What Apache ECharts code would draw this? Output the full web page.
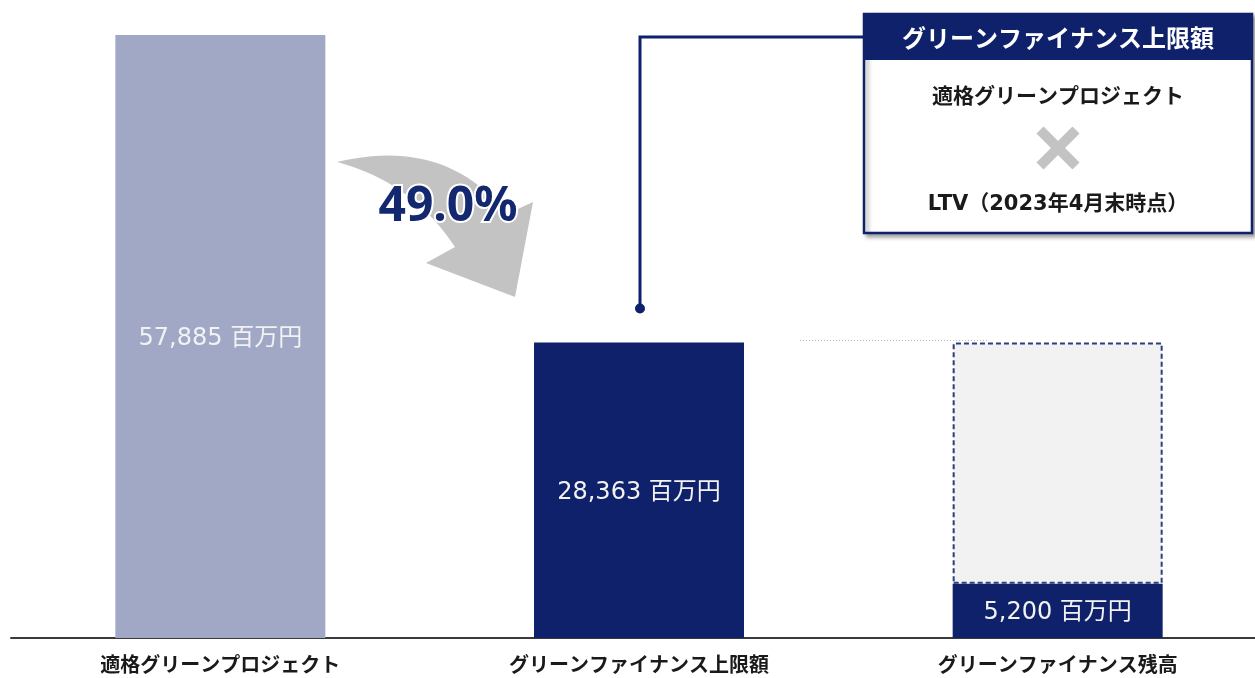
<!DOCTYPE html>
<html>
<head>
<meta charset="utf-8">
<script src="https://cdn.jsdelivr.net/npm/echarts@6/dist/echarts.min.js"></script>
<style>
html,body{margin:0;padding:0;background:#fff;}
#chart{width:1255px;height:678px;}
</style>
</head>
<body>
<div id="chart"></div>
<script>
// ---- data ----
const categories = ['適格グリーンプロジェクト', 'グリーンファイナンス上限額', 'グリーンファイナンス残高'];
const amounts = [57885, 28363, 5200];          // 百万円
const headroom = [null, null, 23163];          // 上限額までの残り枠 (28,363 - 5,200)
const ratioText = '49.0%';
const unit = '百万円';
const boxTitle = 'グリーンファイナンス上限額';
const boxLine1 = '適格グリーンプロジェクト';
const boxLine2 = 'LTV（2023年4月末時点）';

const NAVY = '#0f216a';
const LILAC = '#a1a8c6';
const cjk = "'Noto Sans CJK JP', 'Noto Sans', sans-serif";
const latin = "'DejaVu Sans', 'Noto Sans CJK JP', sans-serif";

const chart = echarts.init(document.getElementById('chart'));

const option = {
  animation: false,
  backgroundColor: '#ffffff',
  grid: { left: 11, width: 1256, top: 35, bottom: 40, outerBoundsMode: 'none', containLabel: false },
  xAxis: {
    type: 'category',
    data: categories,
    axisLine: { show: true, lineStyle: { color: '#3a3a3a', width: 2 } },
    axisTick: { show: false },
    axisLabel: {
      color: '#1a1a1a', fontSize: 20, fontWeight: 'bold', fontFamily: cjk, margin: 16
    }
  },
  yAxis: {
    type: 'value', min: 0, max: 57885,
    show: false, splitLine: { show: false }
  },
  series: [
    {
      type: 'bar', stack: 'a', barWidth: 210,
      data: amounts.map((v, i) => ({
        value: v,
        itemStyle: { color: i === 0 ? LILAC : NAVY }
      })),
      label: {
        show: true, position: 'inside', offset: [0, 2],
        color: '#f2f2f2', fontSize: 24, fontFamily: latin,
        formatter: p => p.value.toLocaleString('en-US') + ' ' + unit
      }
    },
    {
      type: 'bar', stack: 'a', barWidth: 210,
      data: headroom,
      itemStyle: {
        color: '#f2f2f2', borderColor: '#2b3e80', borderWidth: 2, borderType: [5, 3]
      },
      label: { show: false }
    }
  ]
};
chart.setOption(option);

// positions derived from the axes
const top2 = chart.convertToPixel({ xAxisIndex: 0, yAxisIndex: 0 }, [1, amounts[1]]);
const top3 = chart.convertToPixel({ xAxisIndex: 0, yAxisIndex: 0 }, [2, amounts[1]]);
const dotX = top2[0] + 1, dotY = top2[1] - 34;

const boxL = 864, boxT = 14, boxR = 1252, boxB = 233, headB = 60;
const boxCx = (boxL + boxR) / 2;

// curved arrow outline (decorative shape)
function quad(p0, c, p1, n) {
  const pts = [];
  for (let i = 0; i <= n; i++) {
    const t = i / n, u = 1 - t;
    pts.push([u * u * p0[0] + 2 * u * t * c[0] + t * t * p1[0],
              u * u * p0[1] + 2 * u * t * c[1] + t * t * p1[1]]);
  }
  return pts;
}
const arrowPts = []
  .concat(quad([337, 162], [445, 136], [507, 214], 24))
  .concat([[533, 202], [515, 297], [426, 263]])
  .concat(quad([455, 247], [412, 182], [337, 162], 24));

chart.setOption({
  graphic: [
    {
      type: 'polygon', z: 10,
      shape: { points: arrowPts },
      style: { fill: '#c3c3c3' }
    },
    {
      type: 'text', z: 11, x: 448, y: 207,
      style: {
        text: ratioText, fill: '#14286f', font: "bold 48px 'Noto Sans', sans-serif",
        align: 'center', verticalAlign: 'middle',
        stroke: '#ffffff', lineWidth: 4
      }
    },
    // dotted guide at the ceiling level
    {
      type: 'line', z: 5,
      shape: { x1: 800, y1: top3[1] - 2, x2: 987, y2: top3[1] - 2 },
      style: { stroke: '#b8b8b8', lineWidth: 1, lineDash: [1, 2] }
    },
    // callout connector
    {
      type: 'polyline', z: 10,
      shape: { points: [[dotX, dotY], [dotX, 37], [boxL, 37]] },
      style: { stroke: NAVY, lineWidth: 3, fill: null }
    },
    {
      type: 'circle', z: 11,
      shape: { cx: dotX, cy: dotY, r: 5 },
      style: { fill: NAVY }
    },
    // callout box
    {
      type: 'rect', z: 12,
      shape: { x: boxL, y: boxT, width: boxR - boxL, height: boxB - boxT },
      style: {
        fill: '#ffffff', stroke: NAVY, lineWidth: 2.5,
        shadowColor: 'rgba(0,0,0,0.35)', shadowBlur: 4, shadowOffsetX: 3, shadowOffsetY: 3
      }
    },
    {
      type: 'rect', z: 13,
      shape: { x: boxL, y: boxT, width: boxR - boxL, height: headB - boxT },
      style: { fill: NAVY }
    },
    {
      type: 'text', z: 14, x: boxCx, y: (boxT + headB) / 2 + 1,
      style: {
        text: boxTitle, fill: '#ffffff', font: "bold 24px " + cjk,
        align: 'center', verticalAlign: 'middle'
      }
    },
    {
      type: 'text', z: 14, x: boxCx, y: 95,
      style: {
        text: boxLine1, fill: '#1a1a1a', font: "bold 21px " + cjk,
        align: 'center', verticalAlign: 'middle'
      }
    },
    {
      type: 'line', z: 14,
      shape: { x1: boxCx - 18, y1: 130, x2: boxCx + 18, y2: 166 },
      style: { stroke: '#c3c3c3', lineWidth: 10 }
    },
    {
      type: 'line', z: 14,
      shape: { x1: boxCx + 18, y1: 130, x2: boxCx - 18, y2: 166 },
      style: { stroke: '#c3c3c3', lineWidth: 10 }
    },
    {
      type: 'text', z: 14, x: boxCx, y: 205,
      style: {
        text: boxLine2, fill: '#1a1a1a', font: "bold 21px " + latin,
        align: 'center', verticalAlign: 'middle'
      }
    }
  ]
});
</script>
</body>
</html>
